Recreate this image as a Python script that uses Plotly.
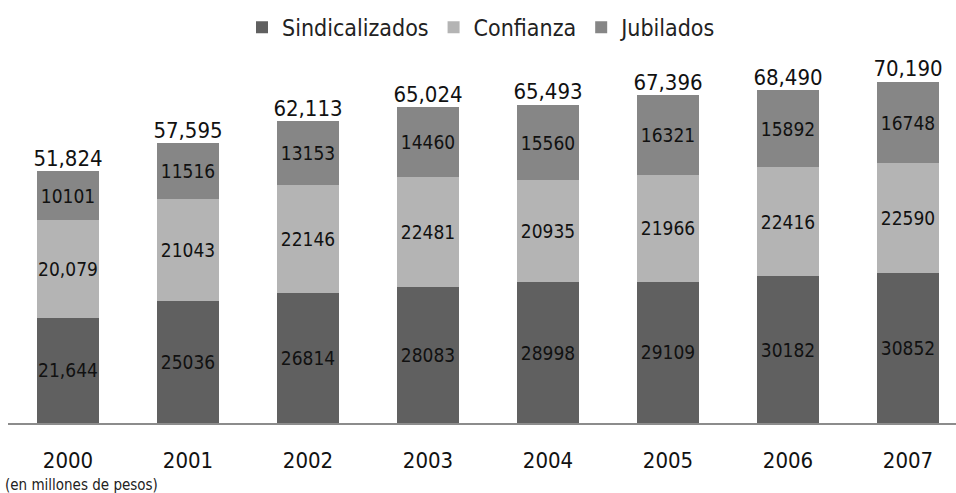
import plotly.graph_objects as go

years = ["2000", "2001", "2002", "2003", "2004", "2005", "2006", "2007"]
sindicalizados = [21644, 25036, 26814, 28083, 28998, 29109, 30182, 30852]
confianza = [20079, 21043, 22146, 22481, 20935, 21966, 22416, 22590]
jubilados = [10101, 11516, 13153, 14460, 15560, 16321, 15892, 16748]
totales = [51824, 57595, 62113, 65024, 65493, 67396, 68490, 70190]

# segment labels as printed in the source table (some with thousands separator)
sind_text = ["21,644", "25036", "26814", "28083", "28998", "29109", "30182", "30852"]
conf_text = ["20,079", "21043", "22146", "22481", "20935", "21966", "22416", "22590"]
jub_text = ["10101", "11516", "13153", "14460", "15560", "16321", "15892", "16748"]
total_text = ["51,824", "57,595", "62,113", "65,024", "65,493", "67,396", "68,490", "70,190"]

FONT = "Liberation Sans Narrow, DejaVu Sans Condensed, Noto Sans, sans-serif"
x_idx = list(range(len(years)))

fig = go.Figure()
for name, vals, txt, color in [
    ("Sindicalizados", sindicalizados, sind_text, "#606060"),
    ("Confianza", confianza, conf_text, "#b4b4b4"),
    ("Jubilados", jubilados, jub_text, "#868686"),
]:
    fig.add_trace(go.Bar(
        x=x_idx, y=vals, name=name, marker=dict(color=color, line=dict(width=0)),
        text=txt, textposition="inside", insidetextanchor="middle",
        textfont=dict(family=FONT, size=19, color="#111111"),
        textangle=0, hoverinfo="skip",
    ))

fig.add_trace(go.Scatter(
    x=x_idx, y=totales, mode="text", text=total_text, textposition="top center",
    textfont=dict(family=FONT, size=22, color="#111111"), showlegend=False,
    hoverinfo="skip",
))

fig.add_annotation(
    text="(en millones de pesos)", xref="paper", yref="paper",
    x=-0.005, y=-0.17, xanchor="left", yanchor="middle", showarrow=False,
    font=dict(family=FONT, size=15, color="#222222"),
)

fig.update_layout(
    width=956, height=493,
    margin=dict(l=8, r=0, t=60, b=70, autoexpand=False),
    barmode="stack", bargap=0.48,
    plot_bgcolor="white", paper_bgcolor="white",
    uniformtext=dict(minsize=19, mode="show"),
    legend=dict(
        orientation="h", x=0.5, xanchor="center", y=1.09, yanchor="middle",
        font=dict(family=FONT, size=23, color="#222222"),
        itemwidth=30, traceorder="normal",
    ),
    xaxis=dict(
        tickmode="array", tickvals=x_idx, ticktext=years, range=[-0.5, 7.4],
        showline=True, linecolor="#8c8c8c", linewidth=1.5, showgrid=False,
        ticks="", ticklabelstandoff=17, zeroline=False,
        tickfont=dict(family=FONT, size=22, color="#111111"), fixedrange=True,
    ),
    yaxis=dict(visible=False, range=[0, 74700], fixedrange=True),
    font=dict(family=FONT),
)

fig.write_html("out.html")
